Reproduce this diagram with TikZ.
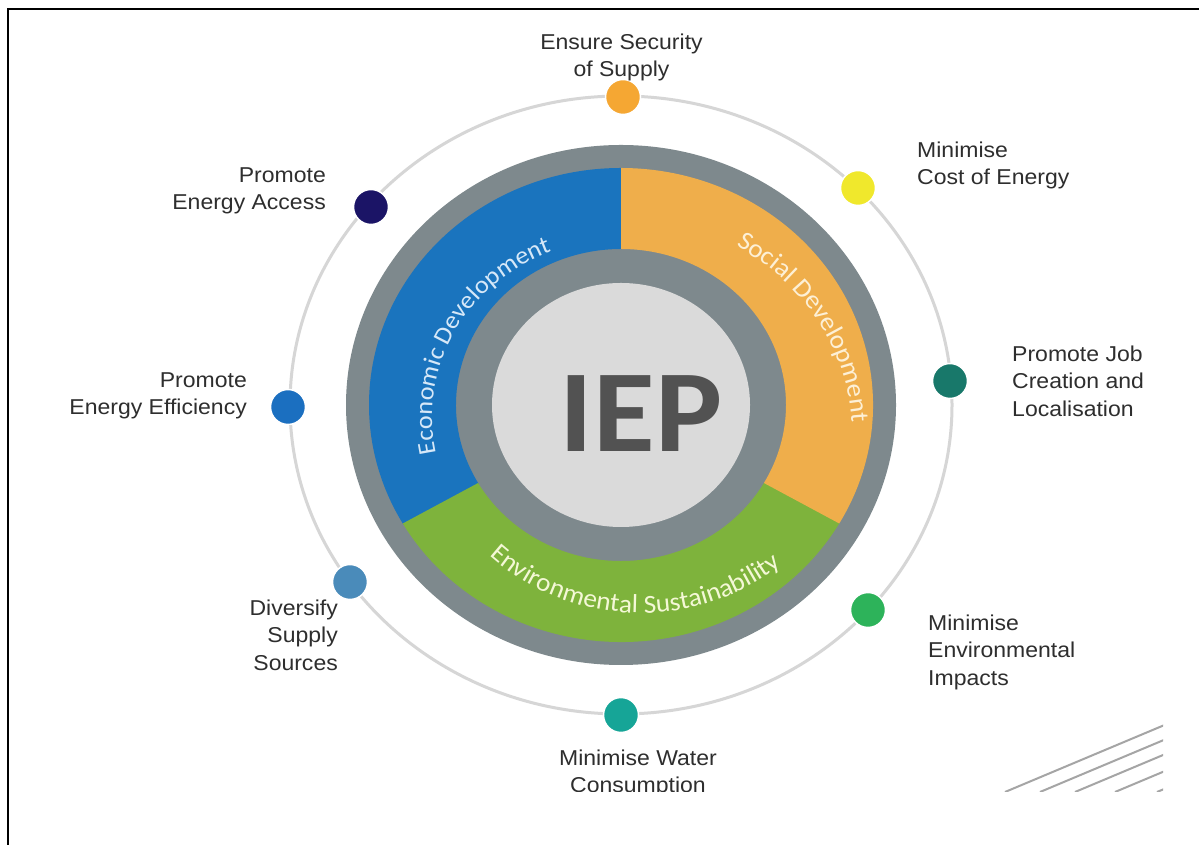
\documentclass[tikz,border=0pt]{standalone}
\usepackage{fontspec}
\setmainfont{Liberation Sans}[FakeStretch=1.07]
\newfontfamily\ringfont{Carlito}[FakeStretch=1.05]
\newfontfamily\iepfont{Carlito}[FakeStretch=1.08]
\usetikzlibrary{decorations.text,calc}
\definecolor{ringgray}{RGB}{126,137,141}
\definecolor{thingray}{RGB}{214,214,214}
\definecolor{ecoblue}{RGB}{26,116,190}
\definecolor{socorange}{RGB}{239,174,75}
\definecolor{envgreen}{RGB}{126,179,60}
\definecolor{diskgray}{RGB}{218,218,218}
\definecolor{iepgray}{RGB}{82,82,82}
\definecolor{labgray}{RGB}{46,46,46}
\definecolor{ecotxt}{RGB}{214,232,248}
\definecolor{soctxt}{RGB}{253,240,214}
\definecolor{envtxt}{RGB}{244,248,214}
\definecolor{cEnsure}{RGB}{245,167,51}
\definecolor{cCost}{RGB}{240,232,44}
\definecolor{cJob}{RGB}{24,120,106}
\definecolor{cEnv}{RGB}{45,179,90}
\definecolor{cWater}{RGB}{22,165,151}
\definecolor{cDiv}{RGB}{74,139,186}
\definecolor{cEff}{RGB}{27,111,192}
\definecolor{cAcc}{RGB}{27,20,102}
\definecolor{stripe}{RGB}{165,165,165}
\newcommand\ringsector[3]{%
  \fill[#1] ($(C)+(#2:252 and 237)$) arc[start angle=#2,end angle=#3,x radius=252,y radius=237]
    -- ($(C)+(#3:165 and 156)$) arc[start angle=#3,end angle=#2,x radius=165,y radius=156] -- cycle;}
\newcommand\ringtxt{\ringfont\fontsize{26}{30}\selectfont}
\newcommand\ecotxtfont{\ringfont\fontsize{25}{30}\selectfont}
\begin{document}
\begin{tikzpicture}[x=1pt,y=1pt,
  goaldot/.style={circle,minimum size=35pt,inner sep=0pt,draw=white,line width=1.5pt},
  lbl/.style={font=\fontsize{21.5}{27.5}\selectfont,text=labgray,inner sep=0pt},
  stripeline/.style={draw=stripe,line width=2pt}]
\useasboundingbox (0,0) rectangle (1199,845);
\fill[white] (0,0) rectangle (1199,845);
\draw[line width=2.5pt,line cap=rect] (8,0) -- (8,836) -- (1199,836);
\begin{scope}
\clip (9.5,53) rectangle (1163,834.5);
\coordinate (C) at (621,440);
\coordinate (Ceco) at (621,428);
\coordinate (Csoc) at (621,410);
\coordinate (Cenv) at (641,440);
% thin outer circle
\draw[thingray,line width=3pt] (C) ellipse[x radius=331,y radius=309];
% gray disk
\fill[ringgray] (C) ellipse[x radius=275,y radius=260];
\ringsector{ecoblue}{90}{210.3}
\ringsector{envgreen}{210}{330.3}
\ringsector{socorange}{-30}{90}
\fill[diskgray] (C) ellipse[x radius=129,y radius=122];
% ring texts
\path[decorate,decoration={text along path,text align=center,text color=ecotxt,
  text={|\ecotxtfont|Economic Development}}]
  ($(Ceco)+(208:189 and 178)$) arc[start angle=208,end angle=96,x radius=189,y radius=178];
\path[decorate,decoration={text along path,text align=center,text color=soctxt,
  text={|\ringtxt|Social Development}}]
  ($(Csoc)+(89:231 and 218)$) arc[start angle=89,end angle=-27,x radius=231,y radius=218];
\path[decorate,decoration={text along path,text align=center,text color=envtxt,
  text={|\ringtxt|Environmental Sustainability}}]
  ($(Cenv)+(212:220 and 208)$) arc[start angle=212,end angle=324,x radius=220,y radius=208];
\node[font=\iepfont\bfseries\fontsize{117}{117}\selectfont,text=iepgray,inner sep=0pt] (iep) at (641,431) {IEP};
% goal dots
\node[goaldot,fill=cEnsure] (d1) at (623,748) {};
\node[goaldot,fill=cCost]   (d2) at (858,657) {};
\node[goaldot,fill=cJob]    (d3) at (950,464) {};
\node[goaldot,fill=cEnv]    (d4) at (868,235) {};
\node[goaldot,fill=cWater]  (d5) at (621,130) {};
\node[goaldot,fill=cDiv]    (d6) at (350,263) {};
\node[goaldot,fill=cEff]    (d7) at (288,438) {};
\node[goaldot,fill=cAcc]    (d8) at (371,638) {};
% labels
\node[lbl,align=center,anchor=north] (l1) at (621.5,811.5) {Ensure Security\\of Supply};
\node[lbl,align=left,anchor=north west] (l2) at (917,703.5) {Minimise\\Cost of Energy};
\node[lbl,align=left,anchor=north west] (l3) at (1012,499.5) {Promote Job\\Creation and\\Localisation};
\node[lbl,align=left,anchor=north west] (l4) at (928,230.5) {Minimise\\Environmental\\Impacts};
\node[lbl,align=center,anchor=north] (l5) at (638,95.5) {Minimise Water\\Consumption};
\node[lbl,align=right,anchor=north east] (l6) at (338,245.5) {Diversify\\Supply\\Sources};
\node[lbl,align=right,anchor=north east] (l7) at (247,472.5) {Promote\\Energy Efficiency};
\node[lbl,align=right,anchor=north east] (l8) at (326,677.5) {Promote\\Energy Access};
% stripes bottom right
\foreach \xs in {1005,1040,1075,1115,1157}
  \draw[stripeline] (\xs,53) -- ++(400,168);
\end{scope}
\end{tikzpicture}
\end{document}
